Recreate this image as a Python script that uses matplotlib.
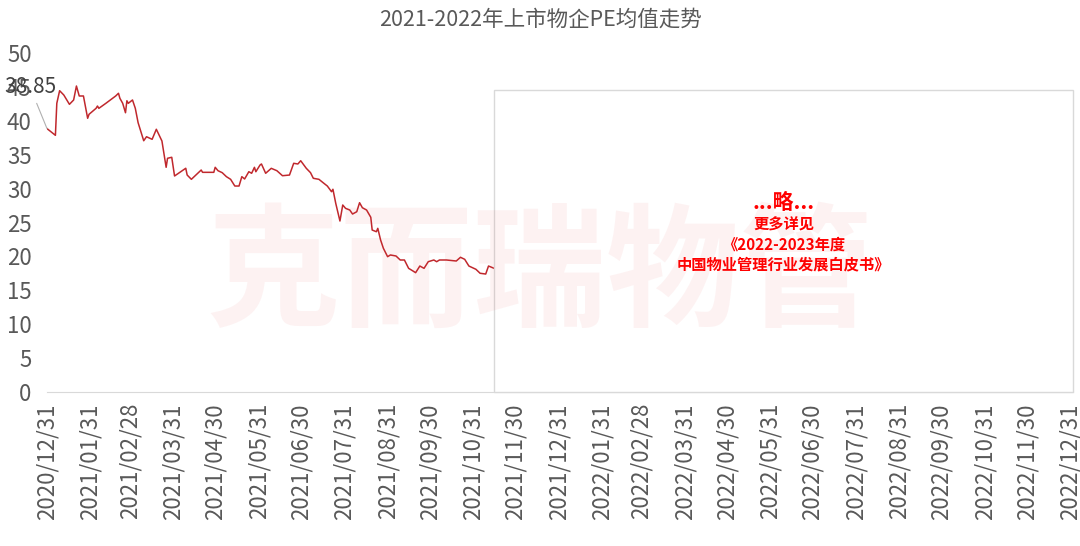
import matplotlib
matplotlib.use("Agg")
import matplotlib.pyplot as plt
import matplotlib.dates as mdates
from matplotlib.patches import Rectangle
import pandas as pd

plt.rcParams['font.family'] = ['Noto Sans CJK SC', 'DejaVu Sans']

# 标题与文字
title = "2021-2022年上市物企PE均值走势"
watermark = "克而瑞物管"
note_head = "...略..."
note_body = "更多详见\n《2022-2023年度\n中国物业管理行业发展白皮书》"

# PE 均值
dates = [
    "2020-12-31", "2021-01-06", "2021-01-07", "2021-01-09", "2021-01-12", "2021-01-16",
    "2021-01-19", "2021-01-21", "2021-01-23", "2021-01-26", "2021-01-29", "2021-01-30",
    "2021-02-04", "2021-02-05", "2021-02-06", "2021-02-11", "2021-02-18", "2021-02-20",
    "2021-02-21", "2021-02-23", "2021-02-25", "2021-02-26", "2021-02-27", "2021-03-02",
    "2021-03-04", "2021-03-06", "2021-03-10", "2021-03-12", "2021-03-16", "2021-03-19",
    "2021-03-23", "2021-03-26", "2021-03-27", "2021-03-30", "2021-04-01", "2021-04-09",
    "2021-04-10", "2021-04-13", "2021-04-20", "2021-04-21", "2021-04-29", "2021-04-30",
    "2021-05-02", "2021-05-05", "2021-05-08", "2021-05-11", "2021-05-14", "2021-05-17",
    "2021-05-19", "2021-05-21", "2021-05-24", "2021-05-26", "2021-05-28", "2021-05-29",
    "2021-06-01", "2021-06-02", "2021-06-05", "2021-06-09", "2021-06-13", "2021-06-17",
    "2021-06-22", "2021-06-25", "2021-06-28", "2021-06-30", "2021-07-04", "2021-07-07",
    "2021-07-09", "2021-07-13", "2021-07-16", "2021-07-19", "2021-07-22", "2021-07-23",
    "2021-07-25", "2021-07-28", "2021-07-30", "2021-08-01", "2021-08-04", "2021-08-06",
    "2021-08-09", "2021-08-11", "2021-08-13", "2021-08-16", "2021-08-19", "2021-08-20",
    "2021-08-23", "2021-08-24", "2021-08-26", "2021-08-28", "2021-08-31", "2021-09-02",
    "2021-09-06", "2021-09-09", "2021-09-12", "2021-09-15", "2021-09-17", "2021-09-20",
    "2021-09-23", "2021-09-26", "2021-09-29", "2021-10-03", "2021-10-05", "2021-10-07",
    "2021-10-12", "2021-10-19", "2021-10-22", "2021-10-25", "2021-10-28", "2021-11-02",
    "2021-11-05", "2021-11-09", "2021-11-11", "2021-11-15",
]
pe_values = [
    38.85, 37.86, 42.58, 44.44, 43.80, 42.43,
    43.07, 45.13, 43.66, 43.66, 40.37, 40.96,
    41.84, 42.18, 41.84, 42.58, 43.66, 44.06,
    43.32, 42.58, 41.19, 42.96, 42.58, 43.07,
    41.84, 39.72, 37.06, 37.65, 37.27, 38.75,
    37.02, 33.14, 34.47, 34.62, 31.86, 33.00,
    32.00, 31.37, 32.74, 32.40, 32.40, 33.14,
    32.64, 32.35, 31.76, 31.37, 30.38, 30.38,
    31.76, 31.42, 32.49, 32.26, 33.14, 32.49,
    33.48, 33.63, 32.26, 32.99, 32.64, 31.90,
    32.00, 33.73, 33.63, 34.11, 32.99, 32.35,
    31.52, 31.37, 30.87, 30.38, 29.54, 29.90,
    27.83, 25.22, 27.58, 27.09, 26.84, 26.25,
    26.59, 27.92, 27.18, 26.84, 25.77, 23.89,
    23.64, 24.14, 22.42, 21.19, 19.96, 20.21,
    20.06, 19.47, 19.47, 18.24, 17.99, 17.60,
    18.58, 18.24, 19.22, 19.47, 19.22, 19.47,
    19.47, 19.32, 19.87, 19.57, 18.58, 18.10,
    17.51, 17.40, 18.58, 18.24,
]

# X 轴刻度（月末）
tick_labels = [
    "2020/12/31", "2021/01/31", "2021/02/28", "2021/03/31", "2021/04/30", "2021/05/31",
    "2021/06/30", "2021/07/31", "2021/08/31", "2021/09/30", "2021/10/31", "2021/11/30",
    "2021/12/31", "2022/01/31", "2022/02/28", "2022/03/31", "2022/04/30", "2022/05/31",
    "2022/06/30", "2022/07/31", "2022/08/31", "2022/09/30", "2022/10/31", "2022/11/30",
    "2022/12/31",
]
y_ticks = [0, 5, 10, 15, 20, 25, 30, 35, 40, 45, 50]

x = pd.to_datetime(dates)
ticks = pd.to_datetime(tick_labels, format="%Y/%m/%d")

W, H = 1080, 546
fig = plt.figure(figsize=(W / 100, H / 100), dpi=100)
ax = fig.add_axes([47 / W, 1 - 392 / H, (1073 - 47) / W, (392 - 53) / H])

ax.plot(x, pe_values, color="#c0282d", lw=1.1, zorder=3)

# 数据标签 + 引导线
ax.annotate(f"{pe_values[0]:.2f}", xy=(x[0], pe_values[0]),
            xytext=(30, H - 87), textcoords="figure pixels",
            ha="center", va="center", fontsize=15, color="#404040",
            arrowprops=dict(arrowstyle="-", color="#b0b0b0", lw=0.8,
                            shrinkA=2, shrinkB=0), zorder=5)

ax.set_ylim(0, 50)
ax.set_xlim(pd.Timestamp("2020-12-31"), pd.Timestamp("2023-01-02"))
ax.set_yticks(y_ticks)
ax.set_xticks(ticks)
ax.set_xticklabels(tick_labels, rotation=90)
ax.tick_params(axis="both", length=0, labelsize=16, labelcolor="#595959")
ax.tick_params(axis="y", pad=11)
ax.tick_params(axis="x", pad=8)

for s in ["top", "right", "left"]:
    ax.spines[s].set_visible(False)
ax.spines["bottom"].set_color("#d9d9d9")

# 遮挡框
x0 = mdates.date2num(pd.Timestamp(dates[-1]))
x1 = mdates.date2num(pd.Timestamp("2023-01-02"))
ax.add_patch(Rectangle((x0, 0), x1 - x0, 44.5, facecolor="white",
                       edgecolor="#d9d9d9", lw=1, zorder=4, clip_on=False))
xc = (x0 + x1) / 2
ax.text(xc, 27.9, note_head, ha="center", va="center", fontsize=15,
        fontweight="bold", color="#ff0000", zorder=7)
ax.text(xc, 21.8, note_body, ha="center", va="center", fontsize=11,
        fontweight="bold", color="#ff0000", linespacing=1.3, zorder=7)

# 水印（半透明，盖在图上）
fig.text(540 / W, 1 - 277 / H, watermark, ha="center", va="center",
         fontsize=96, fontweight="bold", color="#e83030", alpha=0.06, zorder=6)

fig.text(540 / W, 1 - 20 / H, title, ha="center", va="center",
         fontsize=15.5, color="#595959")

fig.savefig("out.png", dpi=100)
